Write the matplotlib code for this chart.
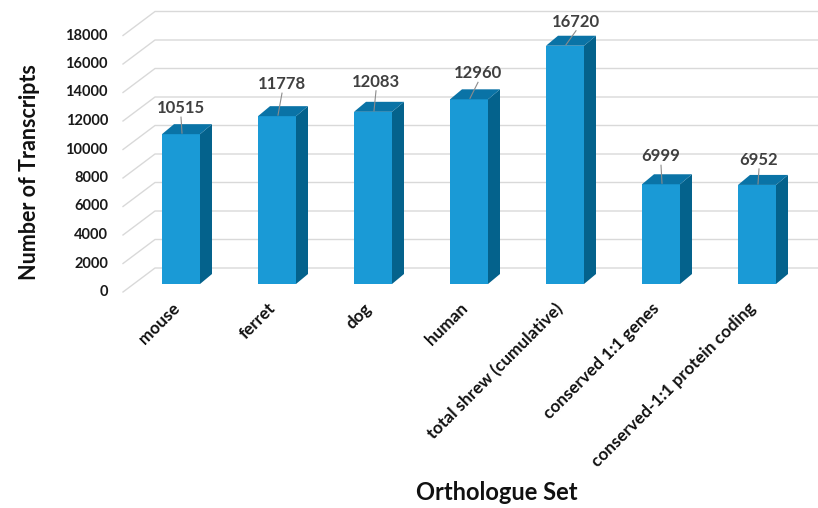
import matplotlib
matplotlib.use('Agg')
import matplotlib.pyplot as plt
from matplotlib.patches import Polygon
from matplotlib.lines import Line2D
from matplotlib.transforms import IdentityTransform

plt.rcParams['font.family'] = ['Lato', 'DejaVu Sans']
plt.rcParams['font.weight'] = 'bold'

# data
categories = ['mouse', 'ferret', 'dog', 'human', 'total shrew (cumulative)',
              'conserved 1:1 genes', 'conserved-1:1 protein coding']
transcripts = [10515, 11778, 12083, 12960, 16720, 6999, 6952]
yticks = list(range(0, 18001, 2000))

# label offsets (pixels) relative to the front-top centre of each bar
label_dx = [0, 5, 3, 9, 11, 0, 2]
label_dy = [26, 32, 30, 26, 24, 28, 25]

front_c = '#1A9AD6'
side_c = '#04628C'
top_c = '#0A73A6'
grid_c = '#D9D9D9'

W, H = 818, 508
fig = plt.figure(figsize=(W / 100, H / 100), dpi=100)
# axes placed in pixel terms: x 100..818, image y 0..300
ax = fig.add_axes([100 / W, (H - 300) / H, 718 / W, 300 / H])
ax.axis('off')
step = 96.0
ax.set_xlim((100 - 181) / step, (818 - 181) / step)
ppu = 28.5 / 2000.0
ax.set_ylim(-(300 - 284) / ppu, 284 / ppu)

x = list(range(len(categories)))
bars = ax.bar(x, transcripts, width=38 / step, color=front_c, zorder=3)

ident = IdentityTransform()
dpx, dpy = 12, 10  # bar depth in pixels


def disp(xv, yv):
    return ax.transData.transform((xv, yv))


# gridlines: front diagonal + back wall
for v in yticks:
    _, yd = disp(0, v)
    ax.add_line(Line2D([123, 155, 818], [yd - 8, yd + 16, yd + 16], color=grid_c,
                       lw=1.0, transform=ident, clip_on=False, zorder=1))
    ax.text(108, yd - 8, str(v), transform=ident, ha='right', va='center',
            fontsize=10.5, fontweight='bold', color='#1a1a1a')

# 3D faces
for b in bars:
    x0, yb = disp(b.get_x(), 0)
    x1, yt = disp(b.get_x() + b.get_width(), b.get_height())
    side = Polygon([(x1, yb), (x1 + dpx, yb + dpy), (x1 + dpx, yt + dpy), (x1, yt)],
                   closed=True, facecolor=side_c, edgecolor='none', transform=ident,
                   clip_on=False, zorder=3)
    top = Polygon([(x0, yt), (x1, yt), (x1 + dpx, yt + dpy), (x0 + dpx, yt + dpy)],
                  closed=True, facecolor=top_c, edgecolor='none', transform=ident,
                  clip_on=False, zorder=3)
    ax.add_patch(side)
    ax.add_patch(top)

# data labels with leader lines
for i, v in enumerate(transcripts):
    cx, yt = disp(i, v)
    lx, ly = cx + label_dx[i], yt + label_dy[i]
    ax.text(lx, ly, str(v), transform=ident, ha='center', va='center',
            fontsize=12, fontweight='bold', color='#404040', zorder=5)
    ax.add_line(Line2D([lx, cx + 1], [ly - 9, yt + 1], color='#8c8c8c', lw=0.8,
                       transform=ident, clip_on=False, zorder=4))

# category labels
for i, c in enumerate(categories):
    cx, _ = disp(i, 0)
    ax.text(cx - 4, H - 306, c, transform=ident, rotation=45, rotation_mode='anchor',
            ha='right', va='center', fontsize=12.3, fontweight='bold', color='#111111')

fig.text(30 / W, 1 - 172 / H, 'Number of Transcripts', rotation=90, ha='center',
         va='center', fontsize=15.5, fontweight='bold', color='#111111')
fig.text(497 / W, 1 - 493 / H, 'Orthologue Set', ha='center', va='center',
         fontsize=17, fontweight='bold', color='#111111')

fig.savefig('out.png', dpi=100)
